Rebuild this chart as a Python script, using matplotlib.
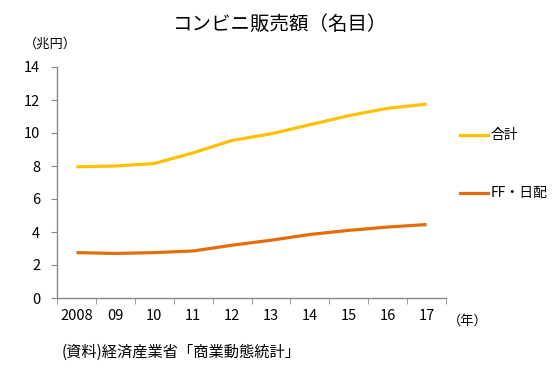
import matplotlib
matplotlib.use('Agg')
import matplotlib.pyplot as plt
import numpy as np

plt.rcParams['font.family'] = ['Noto Sans CJK JP', 'DejaVu Sans']

# data
years = ['2008', '09', '10', '11', '12', '13', '14', '15', '16', '17']
total = [7.95, 8.0, 8.15, 8.8, 9.55, 9.95, 10.5, 11.05, 11.5, 11.75]
ff_daily = [2.75, 2.7, 2.75, 2.85, 3.2, 3.5, 3.85, 4.1, 4.3, 4.45]
series_names = ['合計', 'FF・日配']

col_total = '#FFC000'
col_ff = '#E46C0A'

fig = plt.figure(figsize=(5.6, 3.71), dpi=100)
ax = fig.add_axes([57 / 560, 1 - 298 / 371, (446 - 57) / 560, (298 - 67) / 371])

x = np.arange(len(years))
ax.plot(x, total, color=col_total, lw=2.3, solid_capstyle='butt')
ax.plot(x, ff_daily, color=col_ff, lw=2.3, solid_capstyle='butt')

ax.set_xlim(-0.5, len(years) - 0.5)
ax.set_ylim(0, 14)
ax.set_yticks(range(0, 15, 2))
ax.set_xticks(x)
ax.set_xticklabels(years)
ax.set_xticks(np.arange(-0.5, len(years), 1), minor=True)
ax.tick_params(axis='x', which='major', length=0, pad=8, labelsize=10.5)
ax.tick_params(axis='x', which='minor', length=4, color='#888888', direction='out')
ax.tick_params(axis='y', length=4, color='#888888', direction='out', pad=8, labelsize=10.5)

for s in ['top', 'right']:
    ax.spines[s].set_visible(False)
for s in ['left', 'bottom']:
    ax.spines[s].set_color('#888888')
    ax.spines[s].set_linewidth(1)

# legend drawn by hand at the right, next to the line ends
legend_y = [135, 193]
for yy, col, name in zip(legend_y, [col_total, col_ff], series_names):
    fig.lines.append(plt.Line2D([460 / 560, 488 / 560], [1 - yy / 371] * 2, color=col, lw=2.3,
                                transform=fig.transFigure))
    fig.text(491 / 560, 1 - yy / 371, name, fontsize=10, va='center', ha='left')

fig.text(280 / 560, 1 - 24 / 371, 'コンビニ販売額（名目）', fontsize=14, ha='center', va='center')
fig.text(24 / 560, 1 - 44 / 371, '（兆円）', fontsize=9.5, ha='left', va='center')
fig.text(448 / 560, 1 - 321 / 371, '（年）', fontsize=9.5, ha='left', va='center')
fig.text(62 / 560, 1 - 352 / 371, '(資料)経済産業省「商業動態統計」', fontsize=11, ha='left', va='center')

fig.savefig('out.png', dpi=100)
